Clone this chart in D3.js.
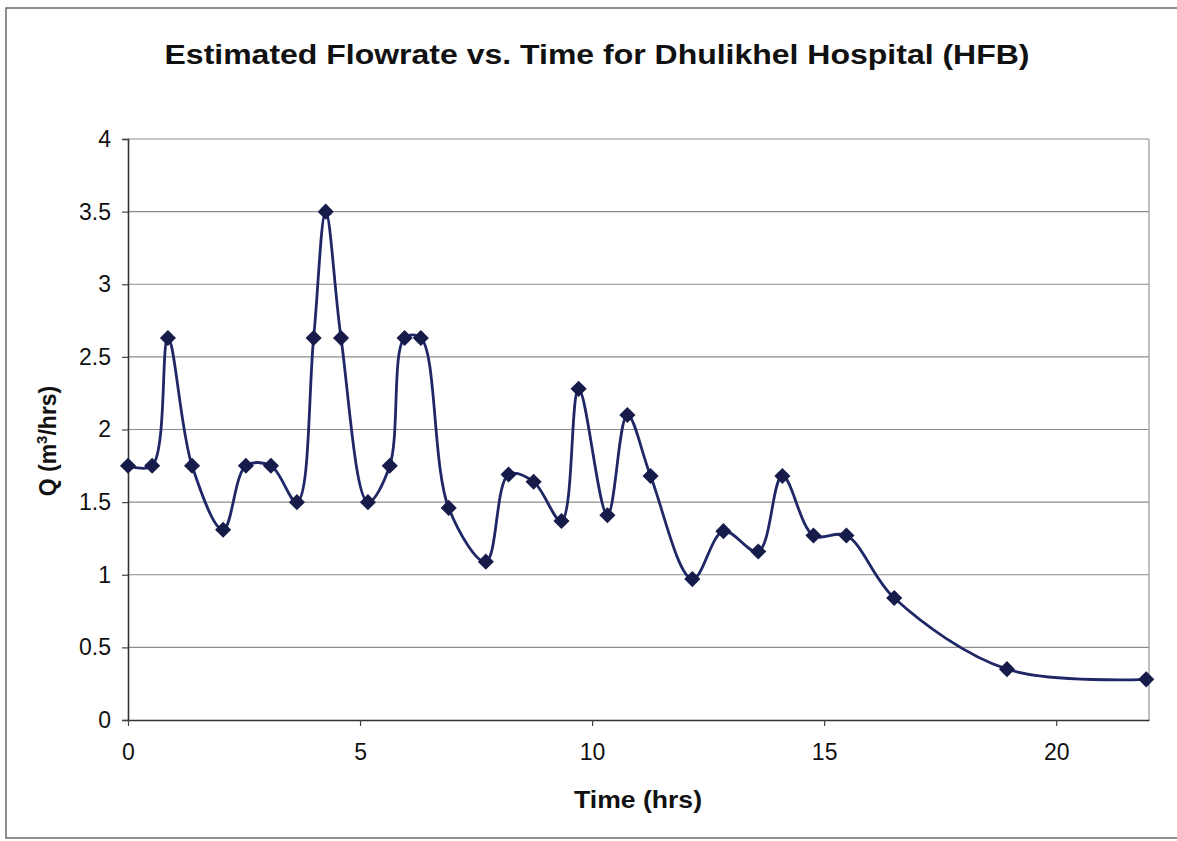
<!DOCTYPE html>
<html>
<head>
<meta charset="utf-8">
<script src="https://cdn.jsdelivr.net/npm/d3@7"></script>
<style>
  html, body { margin: 0; padding: 0; background: #fff; }
  svg { display: block; font-family: "Liberation Sans", Arial, Helvetica, sans-serif; }
</style>
</head>
<body>
<svg id="chart" width="1177" height="841"></svg>
<script>
// ---- data ----
const timeHrs = [0, 0.52, 0.86, 1.38, 2.05, 2.54, 3.08, 3.64, 4.0, 4.26, 4.59, 5.17, 5.64, 5.96, 6.31, 6.91, 7.71, 8.2, 8.74, 9.34, 9.71, 10.33, 10.76, 11.26, 12.16, 12.83, 13.58, 14.1, 14.77, 15.48, 16.51, 18.94, 21.94];
const flowQ   = [1.75, 1.75, 2.63, 1.75, 1.31, 1.75, 1.75, 1.5, 2.63, 3.5, 2.63, 1.5, 1.75, 2.63, 2.63, 1.46, 1.09, 1.69, 1.64, 1.37, 2.28, 1.41, 2.1, 1.68, 0.97, 1.3, 1.16, 1.68, 1.27, 1.27, 0.84, 0.35, 0.28];
const xTicks = [0, 5, 10, 15, 20];
const yTicks = [0, 0.5, 1, 1.5, 2, 2.5, 3, 3.5, 4];
const titleText = "Estimated Flowrate vs. Time for Dhulikhel Hospital (HFB)";
const xLabel = "Time (hrs)";

// ---- layout ----
const svg = d3.select("#chart");
const plot = { left: 128, right: 1149, top: 139, bottom: 720 };

const x = d3.scaleLinear().domain([0, 22]).range([plot.left, plot.right]);
const y = d3.scaleLinear().domain([0, 4]).range([plot.bottom, plot.top]);

// outer frame
svg.append("rect")
  .attr("x", 6).attr("y", 8).attr("width", 1200).attr("height", 830)
  .attr("fill", "none").attr("stroke", "#6a6a6a").attr("stroke-width", 1.5);

// title
svg.append("text")
  .attr("x", 597).attr("y", 64)
  .attr("text-anchor", "middle")
  .attr("font-size", 28).attr("font-weight", "bold").attr("fill", "#111")
  .attr("textLength", 865).attr("lengthAdjust", "spacingAndGlyphs")
  .text(titleText);

// gridlines
svg.append("g").selectAll("line")
  .data(yTicks.filter(d => d > 0))
  .join("line")
  .attr("x1", plot.left).attr("x2", plot.right)
  .attr("y1", d => y(d)).attr("y2", d => y(d))
  .attr("stroke", "#8c8c8c").attr("stroke-width", 1.1);

// right border of plot area
svg.append("line")
  .attr("x1", plot.right).attr("x2", plot.right)
  .attr("y1", plot.top).attr("y2", plot.bottom)
  .attr("stroke", "#8c8c8c").attr("stroke-width", 1.1);

// axes
const yAxis = svg.append("g")
  .attr("transform", `translate(${plot.left},0)`)
  .call(d3.axisLeft(y).tickValues(yTicks).tickSize(6).tickPadding(11).tickFormat(d3.format("")));
const xAxis = svg.append("g")
  .attr("transform", `translate(0,${plot.bottom})`)
  .call(d3.axisBottom(x).tickValues(xTicks).tickSize(6).tickPadding(18).tickSizeOuter(0));

[yAxis, xAxis].forEach(a => {
  a.select(".domain").attr("stroke", "#333").attr("stroke-width", 1.6);
  a.selectAll(".tick line").attr("stroke", "#444").attr("stroke-width", 1.2);
  a.selectAll(".tick text").attr("font-size", 23).attr("fill", "#111")
    .attr("font-family", "'Liberation Sans', Arial, sans-serif");
});

// axis titles
svg.append("text")
  .attr("x", 638).attr("y", 808)
  .attr("text-anchor", "middle")
  .attr("font-size", 24).attr("font-weight", "bold").attr("fill", "#111")
  .attr("textLength", 128).attr("lengthAdjust", "spacingAndGlyphs")
  .text(xLabel);

const yl = svg.append("text")
  .attr("transform", "translate(56,441) rotate(-90)")
  .attr("text-anchor", "middle")
  .attr("font-size", 23).attr("font-weight", "bold").attr("fill", "#111");
yl.append("tspan").text("Q (m");
yl.append("tspan").attr("font-size", 15).attr("dy", -9).text("3");
yl.append("tspan").attr("dy", 9).text("/hrs)");

// series
const pts = timeHrs.map((t, i) => ({ t, q: flowQ[i] }));
const line = d3.line()
  .x(d => x(d.t)).y(d => y(d.q))
  .curve(d3.curveCatmullRom.alpha(0.5));

svg.append("path")
  .datum(pts)
  .attr("d", line)
  .attr("fill", "none")
  .attr("stroke", "#1f2766")
  .attr("stroke-width", 2.8)
  .attr("stroke-linejoin", "round");

const marker = d3.symbol().type(d3.symbolSquare).size(130);
svg.append("g").selectAll("path")
  .data(pts)
  .join("path")
  .attr("d", marker)
  .attr("transform", d => `translate(${x(d.t)},${y(d.q)}) rotate(45)`)
  .attr("fill", "#161b4a");
</script>
</body>
</html>
